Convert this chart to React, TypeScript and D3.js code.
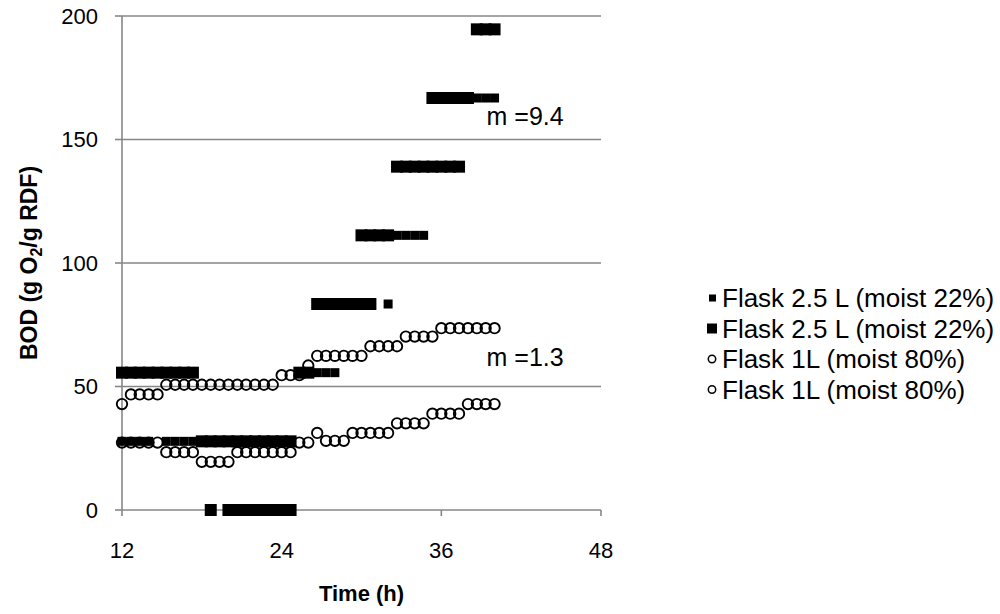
import React from 'react';
import * as d3 from 'd3';

// sampling times (h), one reading every 40 min
const times = [
  12, 12.67, 13.33, 14, 14.67, 15.33, 16, 16.67, 17.33, 18, 18.67, 19.33, 20, 20.67, 21.33,
  22, 22.67, 23.33, 24, 24.67, 25.33, 26, 26.67, 27.33, 28, 28.67, 29.33, 30, 30.67, 31.33,
  32, 32.67, 33.33, 34, 34.67, 35.33, 36, 36.67, 37.33, 38, 38.67, 39.33, 40,
];

// Flask 2.5 L (moist 22%) - small markers
const flask25a = [
  27.8, 27.8, 27.8, 27.8, null, 27.8, 27.8, 27.8, 27.8, 27.8, 27.8, 27.8, 27.8, 27.8, 27.8,
  27.8, 27.8, 27.8, 27.8, 27.8, null, null, 55.6, 55.6, 55.6, null, null, null, null, null,
  83.4, 111.2, 111.2, 111.2, 111.2, null, null, null, null, null, 166.8, 166.8, 166.8,
];

// Flask 2.5 L (moist 22%) - large markers
const flask25b = [
  55.6, 55.6, 55.6, 55.6, 55.6, 55.6, 55.6, 55.6, 55.6, 27.8, 0, 27.8, 0, 0, 0,
  0, 0, 0, 0, 0, 55.6, 55.6, 83.4, 83.4, 83.4, 83.4, 83.4, 83.4, 83.4, 111.2,
  111.2, 139, 139, 139, 139, 139, 139, 139, 139, 166.8, 194.6, 194.6, 194.6,
];
const flask25bRepeat = [
  null, null, null, null, null, null, null, null, null, null, 27.8, null, 27.8, 27.8, 27.8,
  27.8, 27.8, 27.8, 27.8, 27.8, null, null, null, null, null, null, null, 111.2, 111.2, null,
  null, null, null, null, null, 166.8, 166.8, 166.8, 166.8, null, null, null, null,
];

// Flask 1L (moist 80%)
const flask1a = [
  42.9, 46.8, 46.8, 46.8, 46.8, 50.7, 50.7, 50.7, 50.7, 50.7, 50.7, 50.7, 50.7, 50.7, 50.7,
  50.7, 50.7, 50.7, 54.6, 54.6, 54.6, 58.5, 62.4, 62.4, 62.4, 62.4, 62.4, 62.4, 66.3, 66.3,
  66.3, 66.3, 70.2, 70.2, 70.2, 70.2, 73.6, 73.6, 73.6, 73.6, 73.6, 73.6, 73.6,
];
const flask1b = [
  27.3, 27.3, 27.3, 27.3, 27.3, 23.4, 23.4, 23.4, 23.4, 19.5, 19.5, 19.5, 19.5, 23.4, 23.4,
  23.4, 23.4, 23.4, 23.4, 23.4, 27.3, 27.3, 31.2, 28, 28, 28, 31.2, 31.2, 31.2, 31.2,
  31.2, 35.1, 35.1, 35.1, 35.1, 39, 39, 39, 39, 42.9, 42.9, 42.9, 42.9,
];

const xTicks = [12, 24, 36, 48];
const yTicks = [0, 50, 100, 150, 200];
const legendLabels = [
  'Flask 2.5 L (moist 22%)',
  'Flask 2.5 L (moist 22%)',
  'Flask 1L (moist 80%)',
  'Flask 1L (moist 80%)',
];
const slopeLabels = [
  { text: 'm =9.4', t: 39.4, v: 156 },
  { text: 'm =1.3', t: 39.4, v: 58.5 },
];

const FONT = '"Liberation Sans", Arial, sans-serif';
const GRID = '#878787';

const pts = (vals: (number | null)[]) =>
  vals.map((v, i) => ({ t: times[i], v })).filter((d) => d.v !== null) as { t: number; v: number }[];

export default function App() {
  const x = d3.scaleLinear().domain([12, 48]).range([122, 601]);
  const y = d3.scaleLinear().domain([0, 200]).range([510, 16]);

  const squares = (vals: (number | null)[], s: number, key: string) =>
    pts(vals).map((d, i) => (
      <rect key={key + i} x={x(d.t) - s / 2} y={y(d.v) - s / 2} width={s} height={s} fill="#000" />
    ));
  const circles = (vals: (number | null)[], key: string) =>
    pts(vals).map((d, i) => (
      <circle key={key + i} cx={x(d.t)} cy={y(d.v)} r={5.2} fill="none" stroke="#000" strokeWidth={1.9} />
    ));

  return (
    <svg width={1000} height={614} style={{ position: 'absolute', left: 0, top: 0, background: '#fff' }} fontFamily={FONT}>
      {yTicks.map((t) => (
        <g key={'y' + t}>
          {t > 0 && <line x1={x(12)} x2={x(48)} y1={y(t)} y2={y(t)} stroke={GRID} strokeWidth={1.6} />}
          <line x1={115} x2={x(12)} y1={y(t)} y2={y(t)} stroke={GRID} strokeWidth={1.6} />
          <text x={98} y={y(t)} dy="0.36em" textAnchor="end" fontSize={22}>{t}</text>
        </g>
      ))}
      <line x1={x(12)} x2={x(12)} y1={y(200)} y2={y(0)} stroke={GRID} strokeWidth={1.6} />
      <line x1={x(12)} x2={x(48)} y1={y(0)} y2={y(0)} stroke={GRID} strokeWidth={1.6} />
      {xTicks.map((t) => (
        <g key={'x' + t}>
          <line x1={x(t)} x2={x(t)} y1={y(0)} y2={y(0) + 6} stroke={GRID} strokeWidth={1.6} />
          <text x={x(t)} y={558} textAnchor="middle" fontSize={22}>{t}</text>
        </g>
      ))}

      {circles(flask1a, 'ca')}
      {circles(flask1b, 'cb')}
      {squares(flask25a, 9, 'sa')}
      {squares(flask25b, 12, 'sb')}
      {squares(flask25bRepeat, 12, 'sr')}

      {slopeLabels.map((l) => (
        <text key={l.text} x={x(l.t)} y={y(l.v)} fontSize={25}>{l.text}</text>
      ))}

      <text x={x(30)} y={601} textAnchor="middle" fontSize={22} fontWeight="bold">Time (h)</text>
      <text transform={`translate(37, ${y(100)}) rotate(-90)`} textAnchor="middle" fontSize={23} fontWeight="bold">
        BOD (g O<tspan fontSize={16} dy={5}>2</tspan><tspan dy={-5}>/g RDF)</tspan>
      </text>

      {legendLabels.map((l, i) => {
        const cy = 298 + i * 30.5;
        return (
          <g key={'lg' + i}>
            {i === 0 && <rect x={709} y={cy - 3.5} width={7} height={7} fill="#000" />}
            {i === 1 && <rect x={707} y={cy - 5} width={10} height={10} fill="#000" />}
            {i >= 2 && <circle cx={712} cy={cy} r={3.7} fill="none" stroke="#000" strokeWidth={1.5} />}
            <text x={722} y={cy} dy="0.36em" fontSize={26}>{l}</text>
          </g>
        );
      })}
    </svg>
  );
}
